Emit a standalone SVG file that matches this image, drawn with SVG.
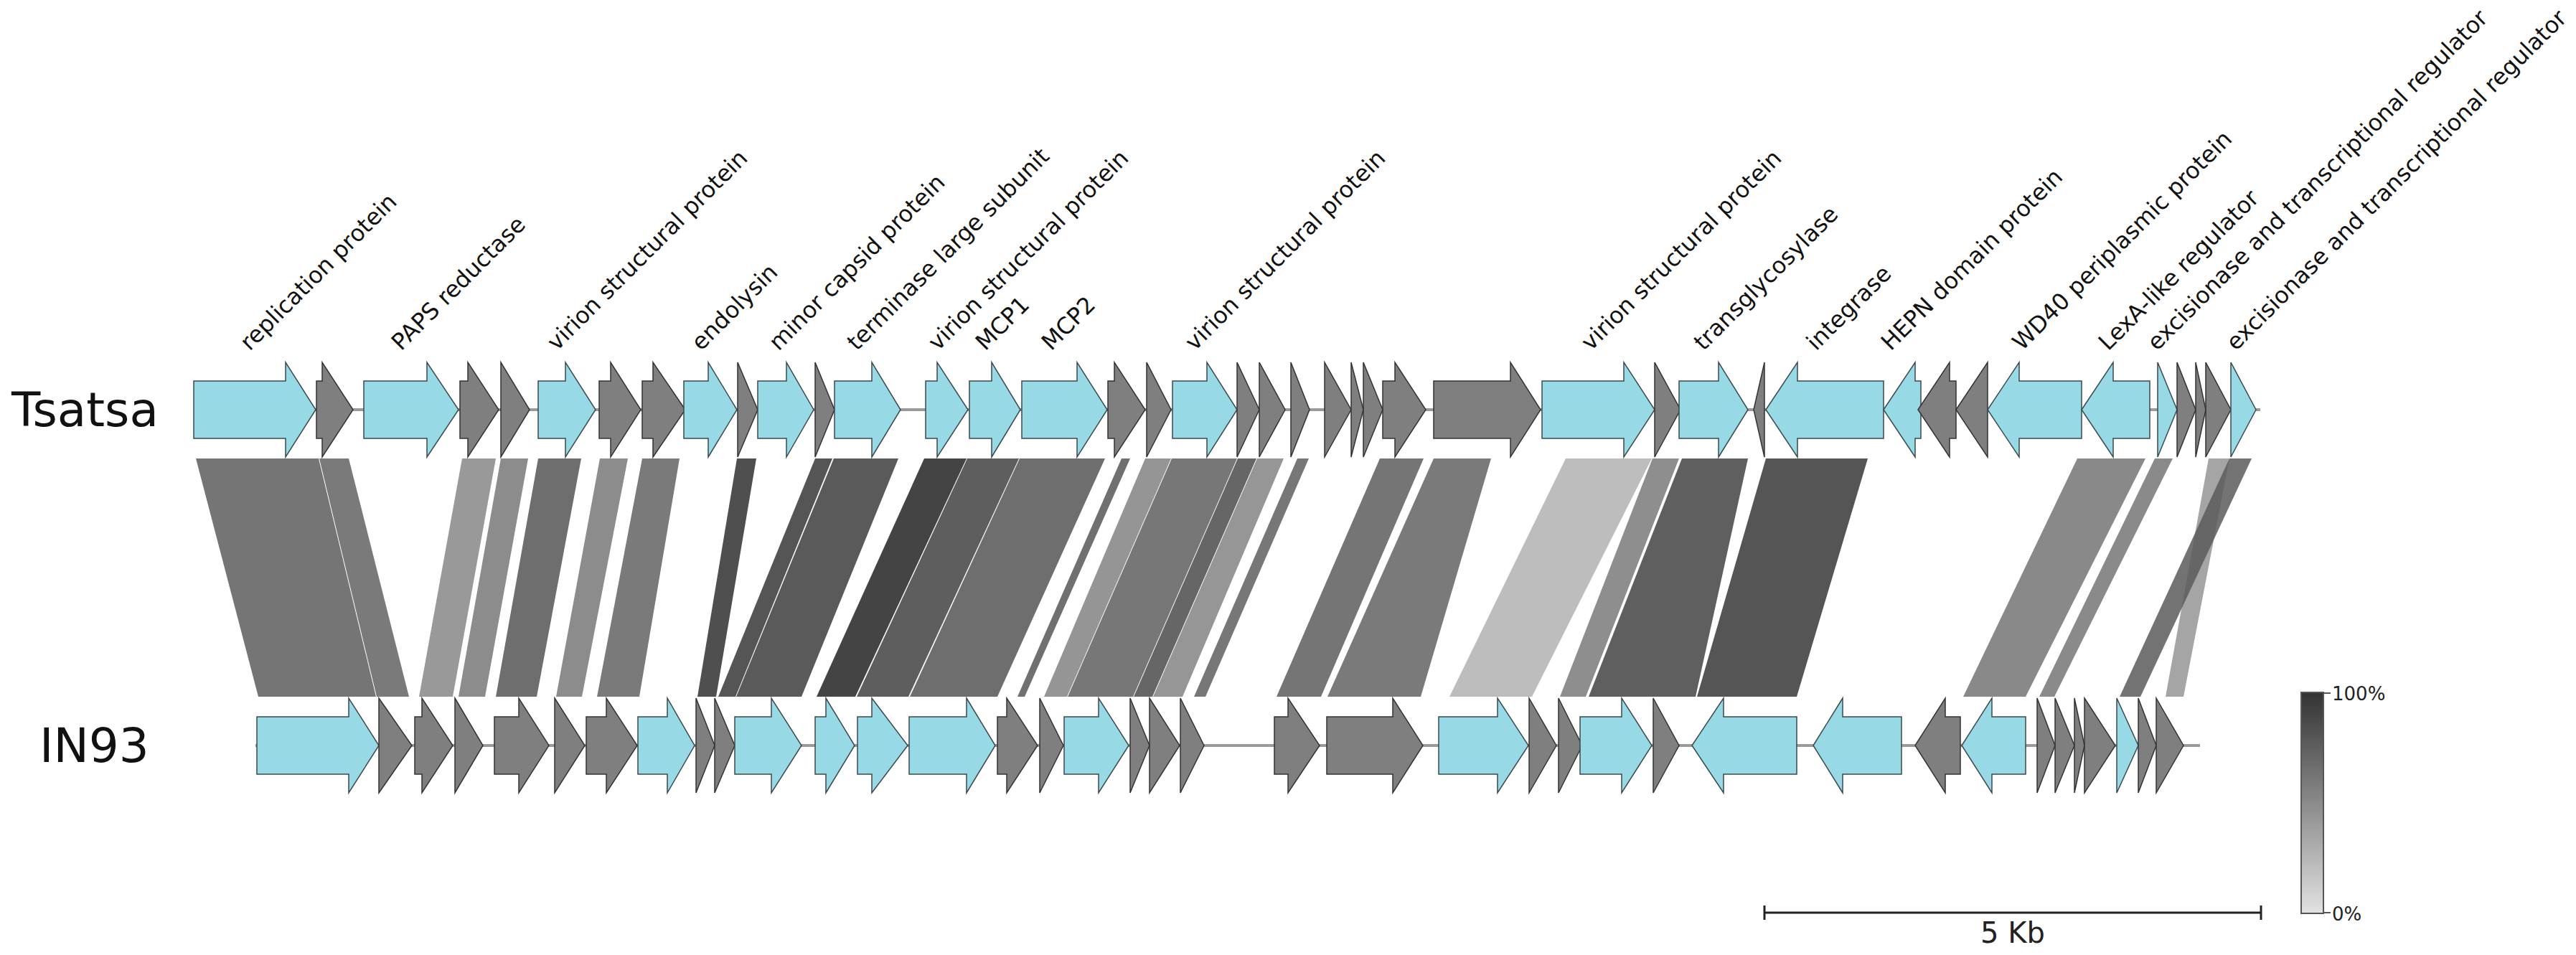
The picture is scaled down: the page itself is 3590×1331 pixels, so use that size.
<svg xmlns="http://www.w3.org/2000/svg" width="3590" height="1331" viewBox="0 0 3590 1331">
<style>
.c{fill:#98d9e6;stroke:#3a4a4e;stroke-width:1.5}
.g{fill:#7f7f7f;stroke:#333;stroke-width:1.5}
.ln{stroke:#9a9a9a;stroke-width:4}
.lab{font-family:"DejaVu Sans",sans-serif;font-size:32px;fill:#111}
.trk{font-family:"DejaVu Sans",sans-serif;font-size:66px;fill:#111}
.sm{font-family:"DejaVu Sans",sans-serif;font-size:26px;fill:#222}
</style>
<defs>
<linearGradient id="gr" x1="0" y1="0" x2="0" y2="1"><stop offset="0" stop-color="#333"/><stop offset="1" stop-color="#e2e2e2"/></linearGradient>
</defs>
<rect width="3590" height="1331" fill="#fff"/>
<text class="trk" x="16" y="594">Tsatsa</text>
<text class="trk" x="55" y="1062">IN93</text>
<g id="labels">
<text class="lab" transform="translate(348,490) rotate(-45)">replication protein</text>
<text class="lab" transform="translate(559,490) rotate(-45)">PAPS reductase</text>
<text class="lab" transform="translate(776,490) rotate(-45)">virion structural protein</text>
<text class="lab" transform="translate(977,490) rotate(-45)">endolysin</text>
<text class="lab" transform="translate(1085,490) rotate(-45)">minor capsid protein</text>
<text class="lab" transform="translate(1194,490) rotate(-45)">terminase large subunit</text>
<text class="lab" transform="translate(1307,490) rotate(-45)">virion structural protein</text>
<text class="lab" transform="translate(1373,490) rotate(-45)">MCP1</text>
<text class="lab" transform="translate(1465,490) rotate(-45)">MCP2</text>
<text class="lab" transform="translate(1665,490) rotate(-45)">virion structural protein</text>
<text class="lab" transform="translate(2217,490) rotate(-45)">virion structural protein</text>
<text class="lab" transform="translate(2374,490) rotate(-45)">transglycosylase</text>
<text class="lab" transform="translate(2531,490) rotate(-45)">integrase</text>
<text class="lab" transform="translate(2635,490) rotate(-45)">HEPN domain protein</text>
<text class="lab" transform="translate(2818,490) rotate(-45)">WD40 periplasmic protein</text>
<text class="lab" transform="translate(2938,490) rotate(-45)">LexA-like regulator</text>
<text class="lab" transform="translate(3006,490) rotate(-45)">excisionase and transcriptional regulator</text>
<text class="lab" transform="translate(3116,490) rotate(-45)">excisionase and transcriptional regulator</text>
</g>
<g id="connectors">
<polygon fill="#757575" points="273,639 444,639 524,971 360,971"/>
<polygon fill="#7a7a7a" points="445,639 486,639 570,971 525,971"/>
<polygon fill="#999" points="644,639 691,639 631,971 584,971"/>
<polygon fill="#8c8c8c" points="698,639 736,639 676,971 639,971"/>
<polygon fill="#6e6e6e" points="750,639 810,639 748,971 691,971"/>
<polygon fill="#8c8c8c" points="836,639 875,639 811,971 775,971"/>
<polygon fill="#7a7a7a" points="895,639 947,639 891,971 832,971"/>
<polygon fill="#4f4f4f" points="1027,639 1054,639 998,971 972,971"/>
<polygon fill="#555" points="1136,639 1160,639 1025,971 1001,971"/>
<polygon fill="#5a5a5a" points="1162,639 1252,639 1117,971 1026,971"/>
<polygon fill="#444" points="1288,639 1347,639 1192,971 1138,971"/>
<polygon fill="#5e5e5e" points="1348,639 1420,639 1266,971 1194,971"/>
<polygon fill="#6e6e6e" points="1421,639 1540,639 1390,971 1268,971"/>
<polygon fill="#707070" points="1563,639 1575,639 1428,971 1418,971"/>
<polygon fill="#959595" points="1596,639 1632,639 1487,971 1455,971"/>
<polygon fill="#777" points="1633,639 1724,639 1579,971 1488,971"/>
<polygon fill="#666" points="1725,639 1751,639 1606,971 1580,971"/>
<polygon fill="#969696" points="1752,639 1789,639 1648,971 1607,971"/>
<polygon fill="#777" points="1808,639 1824,639 1680,971 1664,971"/>
<polygon fill="#757575" points="1923,639 1984,639 1841,971 1779,971"/>
<polygon fill="#7a7a7a" points="1998,639 2078,639 1980,971 1850,971"/>
<polygon fill="#bdbdbd" points="2182,639 2302,639 2135,971 2020,971"/>
<polygon fill="#8e8e8e" points="2303,639 2340,639 2210,971 2174,971"/>
<polygon fill="#5f5f5f" points="2344,639 2436,639 2363,971 2214,971"/>
<polygon fill="#555" points="2461,639 2603,639 2504,971 2365,971"/>
<polygon fill="#898989" points="2895,639 2990,639 2823,971 2736,971"/>
<polygon fill="#8a8a8a" points="3003,639 3028,639 2863,971 2842,971"/>
<polygon fill="#a5a5a5" points="3078,639 3107,639 3043,971 3018,971"/>
<polygon fill="#5a5a5a" fill-opacity="0.85" points="3107,639 3138,639 2983,971 2954,971"/>
</g>
<g id="track-Tsatsa">
<line class="ln" x1="270" y1="571" x2="3150" y2="571"/>
<polygon class="c" points="270,531 398,531 398,505 440,571 398,637 398,611 270,611"/>
<polygon class="g" points="441,531 449,531 449,505 492,571 449,637 449,611 441,611"/>
<polygon class="c" points="507,531 595,531 595,505 639,571 595,637 595,611 507,611"/>
<polygon class="g" points="641,531 652,531 652,505 695,571 652,637 652,611 641,611"/>
<polygon class="g" points="698,505 738,571 698,637"/>
<polygon class="c" points="750,531 788,531 788,505 830,571 788,637 788,611 750,611"/>
<polygon class="g" points="835,531 851,531 851,505 893,571 851,637 851,611 835,611"/>
<polygon class="g" points="895,531 910,531 910,505 955,571 910,637 910,611 895,611"/>
<polygon class="c" points="953,531 987,531 987,505 1027,571 987,637 987,611 953,611"/>
<polygon class="g" points="1028,505 1056,571 1028,637"/>
<polygon class="c" points="1056,531 1096,531 1096,505 1134,571 1096,637 1096,611 1056,611"/>
<polygon class="g" points="1136,505 1163,571 1136,637"/>
<polygon class="c" points="1163,531 1215,531 1215,505 1255,571 1215,637 1215,611 1163,611"/>
<polygon class="c" points="1290,531 1306,531 1306,505 1349,571 1306,637 1306,611 1290,611"/>
<polygon class="c" points="1351,531 1382,531 1382,505 1422,571 1382,637 1382,611 1351,611"/>
<polygon class="c" points="1424,531 1501,531 1501,505 1543,571 1501,637 1501,611 1424,611"/>
<polygon class="g" points="1544,531 1553,531 1553,505 1596,571 1553,637 1553,611 1544,611"/>
<polygon class="g" points="1598,505 1632,571 1598,637"/>
<polygon class="c" points="1634,531 1682,531 1682,505 1724,571 1682,637 1682,611 1634,611"/>
<polygon class="g" points="1724,505 1755,571 1724,637"/>
<polygon class="g" points="1755,505 1791,571 1755,637"/>
<polygon class="g" points="1799,505 1825,571 1799,637"/>
<polygon class="g" points="1846,505 1883,571 1846,637"/>
<polygon class="g" points="1883,505 1900,571 1883,637"/>
<polygon class="g" points="1900,505 1927,571 1900,637"/>
<polygon class="g" points="1927,531 1944,531 1944,505 1987,571 1944,637 1944,611 1927,611"/>
<polygon class="g" points="1998,531 2105,531 2105,505 2147,571 2105,637 2105,611 1998,611"/>
<polygon class="c" points="2149,531 2263,531 2263,505 2306,571 2263,637 2263,611 2149,611"/>
<polygon class="g" points="2306,505 2342,571 2306,637"/>
<polygon class="c" points="2340,531 2395,531 2395,505 2436,571 2395,637 2395,611 2340,611"/>
<polygon class="g" points="2444,571 2459,505 2459,637"/>
<polygon class="c" points="2461,571 2505,505 2505,531 2625,531 2625,611 2505,611 2505,637"/>
<polygon class="c" points="2625,571 2669,505 2669,531 2677,531 2677,611 2669,611 2669,637"/>
<polygon class="g" points="2673,571 2717,505 2717,531 2726,531 2726,611 2717,611 2717,637"/>
<polygon class="g" points="2726,571 2770,505 2770,637"/>
<polygon class="c" points="2770,571 2814,505 2814,531 2901,531 2901,611 2814,611 2814,637"/>
<polygon class="c" points="2901,571 2945,505 2945,531 2996,531 2996,611 2945,611 2945,637"/>
<polygon class="c" points="3007,505 3034,571 3007,637"/>
<polygon class="g" points="3034,505 3060,571 3034,637"/>
<polygon class="g" points="3060,505 3074,571 3060,637"/>
<polygon class="g" points="3074,505 3109,571 3074,637"/>
<polygon class="c" points="3109,505 3144,571 3109,637"/>
</g>
<g id="track-IN93">
<line class="ln" x1="356" y1="1039" x2="3066" y2="1039"/>
<polygon class="c" points="358,999 486,999 486,973 528,1039 486,1105 486,1079 358,1079"/>
<polygon class="g" points="528,973 574,1039 528,1105"/>
<polygon class="g" points="578,999 588,999 588,973 631,1039 588,1105 588,1079 578,1079"/>
<polygon class="g" points="634,973 673,1039 634,1105"/>
<polygon class="g" points="689,999 723,999 723,973 765,1039 723,1105 723,1079 689,1079"/>
<polygon class="g" points="773,973 815,1039 773,1105"/>
<polygon class="g" points="817,999 845,999 845,973 888,1039 845,1105 845,1079 817,1079"/>
<polygon class="c" points="889,999 930,999 930,973 968,1039 930,1105 930,1079 889,1079"/>
<polygon class="g" points="970,973 996,1039 970,1105"/>
<polygon class="g" points="996,973 1024,1039 996,1105"/>
<polygon class="c" points="1024,999 1075,999 1075,973 1117,1039 1075,1105 1075,1079 1024,1079"/>
<polygon class="c" points="1136,999 1151,999 1151,973 1191,1039 1151,1105 1151,1079 1136,1079"/>
<polygon class="c" points="1195,999 1215,999 1215,973 1265,1039 1215,1105 1215,1079 1195,1079"/>
<polygon class="c" points="1267,999 1347,999 1347,973 1387,1039 1347,1105 1347,1079 1267,1079"/>
<polygon class="g" points="1390,999 1403,999 1403,973 1446,1039 1403,1105 1403,1079 1390,1079"/>
<polygon class="g" points="1449,973 1482,1039 1449,1105"/>
<polygon class="c" points="1483,999 1531,999 1531,973 1573,1039 1531,1105 1531,1079 1483,1079"/>
<polygon class="g" points="1575,973 1602,1039 1575,1105"/>
<polygon class="g" points="1602,973 1644,1039 1602,1105"/>
<polygon class="g" points="1645,973 1678,1039 1645,1105"/>
<polygon class="g" points="1776,999 1795,999 1795,973 1839,1039 1795,1105 1795,1079 1776,1079"/>
<polygon class="g" points="1849,999 1941,999 1941,973 1983,1039 1941,1105 1941,1079 1849,1079"/>
<polygon class="c" points="2005,999 2087,999 2087,973 2130,1039 2087,1105 2087,1079 2005,1079"/>
<polygon class="g" points="2131,973 2169,1039 2131,1105"/>
<polygon class="g" points="2172,973 2205,1039 2172,1105"/>
<polygon class="c" points="2202,999 2260,999 2260,973 2302,1039 2260,1105 2260,1079 2202,1079"/>
<polygon class="g" points="2304,973 2340,1039 2304,1105"/>
<polygon class="c" points="2358,1039 2402,973 2402,999 2504,999 2504,1079 2402,1079 2402,1105"/>
<polygon class="c" points="2527,1039 2568,973 2568,999 2650,999 2650,1079 2568,1079 2568,1105"/>
<polygon class="g" points="2669,1039 2711,973 2711,999 2732,999 2732,1079 2711,1079 2711,1105"/>
<polygon class="c" points="2734,1039 2776,973 2776,999 2823,999 2823,1079 2776,1079 2776,1105"/>
<polygon class="g" points="2839,973 2864,1039 2839,1105"/>
<polygon class="g" points="2864,973 2891,1039 2864,1105"/>
<polygon class="g" points="2891,973 2905,1039 2891,1105"/>
<polygon class="g" points="2905,973 2948,1039 2905,1105"/>
<polygon class="c" points="2950,973 2980,1039 2950,1105"/>
<polygon class="g" points="2980,973 3005,1039 2980,1105"/>
<polygon class="g" points="3005,973 3043,1039 3005,1105"/>
</g>
<g id="scalebar">
<line x1="2459" y1="1272" x2="3151" y2="1272" stroke="#222" stroke-width="3"/>
<line x1="2459" y1="1262" x2="2459" y2="1282" stroke="#222" stroke-width="3"/>
<line x1="3151" y1="1262" x2="3151" y2="1282" stroke="#222" stroke-width="3"/>
<text class="sm" x="2805" y="1314" text-anchor="middle" style="font-size:40px">5 Kb</text>
</g>
<g id="legend">
<rect x="3207" y="965" width="31" height="308" fill="url(#gr)" stroke="#555" stroke-width="2"/>
<line x1="3238" y1="966" x2="3248" y2="966" stroke="#555" stroke-width="2"/>
<line x1="3238" y1="1272" x2="3248" y2="1272" stroke="#555" stroke-width="2"/>
<text class="sm" x="3250" y="976">100%</text>
<text class="sm" x="3250" y="1283">0%</text>
</g>
</svg>
